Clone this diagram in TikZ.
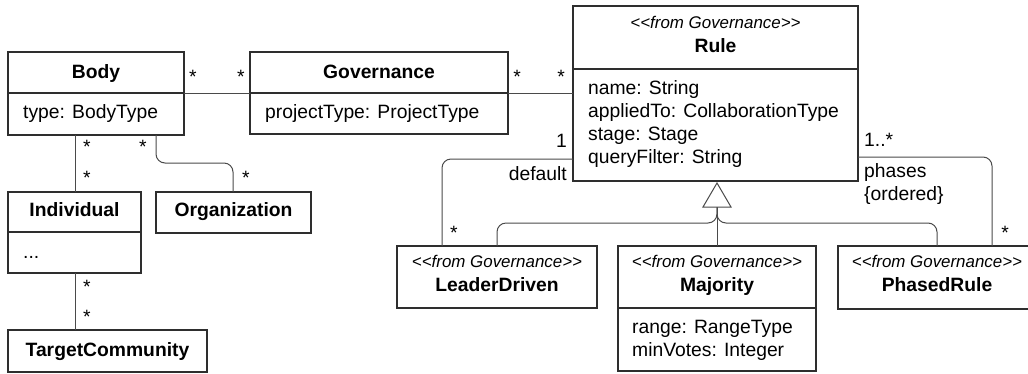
\documentclass[tikz,border=0pt]{standalone}
\usepackage{fontspec}
\setmainfont{Liberation Sans}
\definecolor{bordercol}{HTML}{2E2E2E}
\definecolor{conncol}{HTML}{4A4A4A}
\newcommand{\fromgov}{<{}<from Governance>{}>}
\begin{document}
\begin{tikzpicture}[x=1pt,y=-1pt,
  box/.style={draw=bordercol, line width=1.6pt, rectangle, inner sep=0pt, outer sep=0pt, anchor=north west},
  divider/.style={draw=bordercol, line width=1.6pt},
  conn/.style={draw=conncol, line width=1pt, rounded corners=9pt},
  gen/.style={draw=conncol, line width=1pt, fill=white},
  cname/.style={inner sep=0pt, anchor=base, font=\fontsize{19.3}{23}\selectfont\bfseries},
  stereo/.style={inner sep=0pt, anchor=base, font=\fontsize{16.9}{20}\selectfont\itshape},
  attr/.style={inner sep=0pt, anchor=base west, font=\fontsize{19.3}{23}\selectfont},
  lbl/.style={inner sep=0pt, anchor=base, font=\fontsize{19.3}{23}\selectfont},
  lblw/.style={inner sep=0pt, anchor=base west, font=\fontsize{19.3}{23}\selectfont},
  lble/.style={inner sep=0pt, anchor=base east, font=\fontsize{19.3}{23}\selectfont}]
\useasboundingbox (0,0) rectangle (1028,373);

% ---- boxes ----
\node[box, minimum width=176pt, minimum height=83pt] (body) at (8,52) {};
\draw[divider] (body.west |- 0,93) -- (body.east |- 0,93);
\node[cname] (bodyn) at (96,78) {Body};
\node[attr] (bodya) at (23,118) {type: BodyType};

\node[box, minimum width=258pt, minimum height=82pt] (gov) at (250,52) {};
\draw[divider] (gov.west |- 0,93) -- (gov.east |- 0,93);
\node[cname] (govn) at (379,78) {Governance};
\node[attr] (gova) at (265,118) {projectType: ProjectType};

\node[box, minimum width=285pt, minimum height=175pt] (rule) at (573,6) {};
\draw[divider] (rule.west |- 0,69) -- (rule.east |- 0,69);
\node[stereo] (rules) at (715.5,28) {\fromgov};
\node[cname] (rulen) at (715.5,52) {Rule};
\node[attr] (rulea1) at (588,94) {name: String};
\node[attr] (rulea2) at (588,117) {appliedTo: CollaborationType};
\node[attr] (rulea3) at (588,140) {stage: Stage};
\node[attr] (rulea4) at (588,163) {queryFilter: String};

\node[box, minimum width=133pt, minimum height=81pt] (ind) at (8,192) {};
\draw[divider] (ind.west |- 0,232) -- (ind.east |- 0,232);
\node[cname] (indn) at (74.5,216) {Individual};
\node[attr] (inda) at (23,258) {...};

\node[box, minimum width=155pt, minimum height=41pt] (org) at (156,192) {};
\node[cname] (orgn) at (233.5,216) {Organization};

\node[box, minimum width=199pt, minimum height=42pt] (tc) at (8,330) {};
\node[cname] (tcn) at (107.5,356) {TargetCommunity};

\node[box, minimum width=200pt, minimum height=62pt] (ld) at (397,246) {};
\node[stereo] (lds) at (497,267) {\fromgov};
\node[cname] (ldn) at (497,291) {LeaderDriven};

\node[box, minimum width=198pt, minimum height=125pt] (maj) at (618,246) {};
\draw[divider] (maj.west |- 0,308) -- (maj.east |- 0,308);
\node[stereo] (majs) at (717,267) {\fromgov};
\node[cname] (majn) at (717,291) {Majority};
\node[attr] (maja1) at (632,333) {range: RangeType};
\node[attr] (maja2) at (632,356) {minVotes: Integer};

\node[box, minimum width=198pt, minimum height=63pt] (pr) at (838,246) {};
\node[stereo] (prs) at (937,267) {\fromgov};
\node[cname] (prn) at (937,291) {PhasedRule};

% ---- associations ----
\draw[conn] (body.east |- 0,93) -- (gov.west |- 0,93);
\node[lbl] at (193,83) {*};
\node[lbl] at (241,83) {*};

\draw[conn] (gov.east |- 0,93) -- (rule.west |- 0,93);
\node[lbl] at (517,83) {*};
\node[lbl] at (561,83) {*};

\draw[conn] (body.south -| 75,0) -- (ind.north -| 75,0);
\node[lbl] at (87,153) {*};
\node[lbl] at (87,184) {*};

\draw[conn] (body.south -| 156,0) -- (156,163) -- (233,163) -- (org.north -| 233,0);
\node[lbl] at (143,153) {*};
\node[lbl] at (246,184) {*};

\draw[conn] (ind.south -| 75,0) -- (tc.north -| 75,0);
\node[lbl] at (87,293) {*};
\node[lbl] at (87,323) {*};

\draw[conn] (rule.west |- 0,159) -- (442,159) -- (ld.north -| 442,0);
\node[lble] at (567,147) {1};
\node[lble] at (567,180) {default};
\node[lbl] at (454,239) {*};

\draw[conn] (rule.east |- 0,157) -- (992,157) -- (pr.north -| 992,0);
\node[lblw] at (864,146) {1..*};
\node[lblw] at (864,177) {phases};
\node[lblw] at (864,200) {\{ordered\}};
\node[lbl] at (1005,239) {*};

% ---- generalization ----
\coordinate (apex) at (717,183);
\coordinate (tbase) at (717,207);
\draw[conn] (ld.north -| 497,0) -- (497,223) -- (717,223) -- (tbase);
\draw[conn] (pr.north -| 937,0) -- (937,223) -- (717,223) -- (tbase);
\draw[conn] (tbase) -- (maj.north -| 717,0);
\draw[gen] (apex) -- (731,207) -- (703,207) -- cycle;
\end{tikzpicture}
\end{document}
